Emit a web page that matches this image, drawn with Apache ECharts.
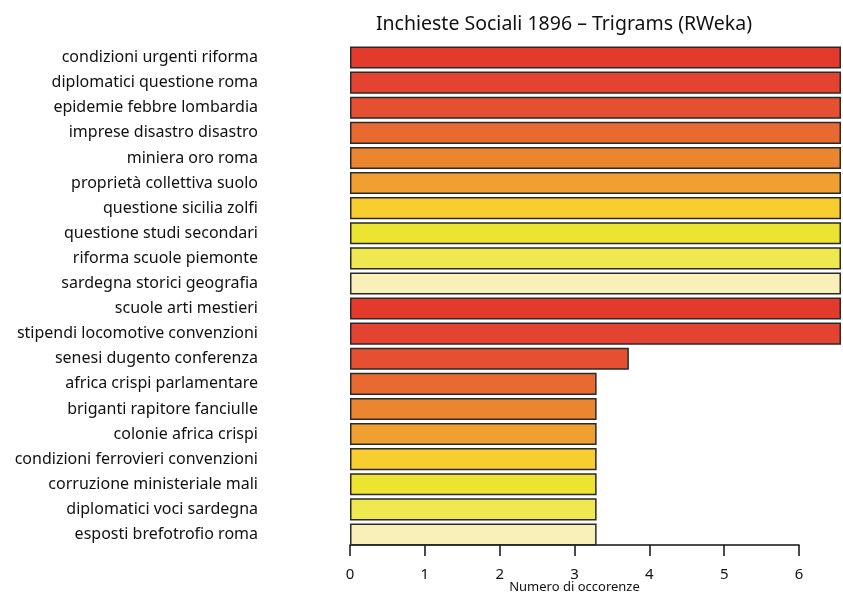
<!DOCTYPE html>
<html><head><meta charset="utf-8">
<script src="https://cdn.jsdelivr.net/npm/echarts@6/dist/echarts.min.js"></script>
<style>html,body{margin:0;padding:0;background:#fff}#c{width:843px;height:596px}</style>
</head><body><div id="c"></div>
<script>
var categories = [
  "condizioni urgenti riforma","diplomatici questione roma","epidemie febbre lombardia",
  "imprese disastro disastro","miniera oro roma","proprietà collettiva suolo",
  "questione sicilia zolfi","questione studi secondari","riforma scuole piemonte",
  "sardegna storici geografia","scuole arti mestieri","stipendi locomotive convenzioni",
  "senesi dugento conferenza","africa crispi parlamentare","briganti rapitore fanciulle",
  "colonie africa crispi","condizioni ferrovieri convenzioni","corruzione ministeriale mali",
  "diplomatici voci sardegna","esposti brefotrofio roma"
];
var values = [6.55,6.55,6.55,6.55,6.55,6.55,6.55,6.55,6.55,6.55,6.55,6.55,3.72,3.29,3.29,3.29,3.29,3.29,3.29,3.29];
var palette = ["#e33a2c","#e34330","#e55030","#e86a30","#ec8530","#f0a030","#f8cd30","#ece430","#efe850","#f8f0b8"];
var xTicks = [0,1,2,3,4,5,6];
var titleText = "Inchieste Sociali 1896 \u2013 Trigrams (RWeka)";
var xName = "Numero di occorenze";

var FONT = "Noto Sans";
var chart = echarts.init(document.getElementById('c'), null, {renderer:'canvas'});
chart.setOption({
  backgroundColor:'#ffffff',
  animation:false,
  title:{text:titleText, left:559, top:9, textAlign:'center',
    textStyle:{fontFamily:FONT, fontSize:19.5, fontWeight:'normal', color:'#111'}},
  grid:[
    {left:350, right:2, top:45, bottom:49, containLabel:false, outerBoundsMode:'none'},
    {left:350, width:449, top:45, bottom:51, containLabel:false, outerBoundsMode:'none'}
  ],
  xAxis:[
    {gridIndex:0, type:'value', min:0, max:6.55, show:false},
    {gridIndex:1, type:'value', min:xTicks[0], max:xTicks[xTicks.length-1], interval:1,
     name:xName, nameLocation:'middle', nameGap:36, nameMoveOverlap:false,
     nameTextStyle:{fontFamily:FONT, fontSize:13, color:'#111'},
     axisLine:{show:true, lineStyle:{color:'#111', width:1.5}},
     axisTick:{show:true, length:11, lineStyle:{color:'#111', width:1.5}},
     axisLabel:{fontFamily:FONT, fontSize:15, color:'#111', margin:22},
     splitLine:{show:false}}
  ],
  yAxis:[
    {gridIndex:0, type:'category', data:categories, inverse:true,
     axisLine:{show:false}, axisTick:{show:false},
     axisLabel:{fontFamily:FONT, fontSize:16, color:'#111', margin:92}},
    {gridIndex:1, type:'category', data:categories, show:false}
  ],
  series:[{
    type:'bar', xAxisIndex:0, yAxisIndex:0, barCategoryGap:'12%',
    data: values.map(function(v,i){return {value:v, itemStyle:{color:palette[i%10]}};}),
    itemStyle:{borderColor:'#2a2a2a', borderWidth:1.5}
  }]
});
</script></body></html>
